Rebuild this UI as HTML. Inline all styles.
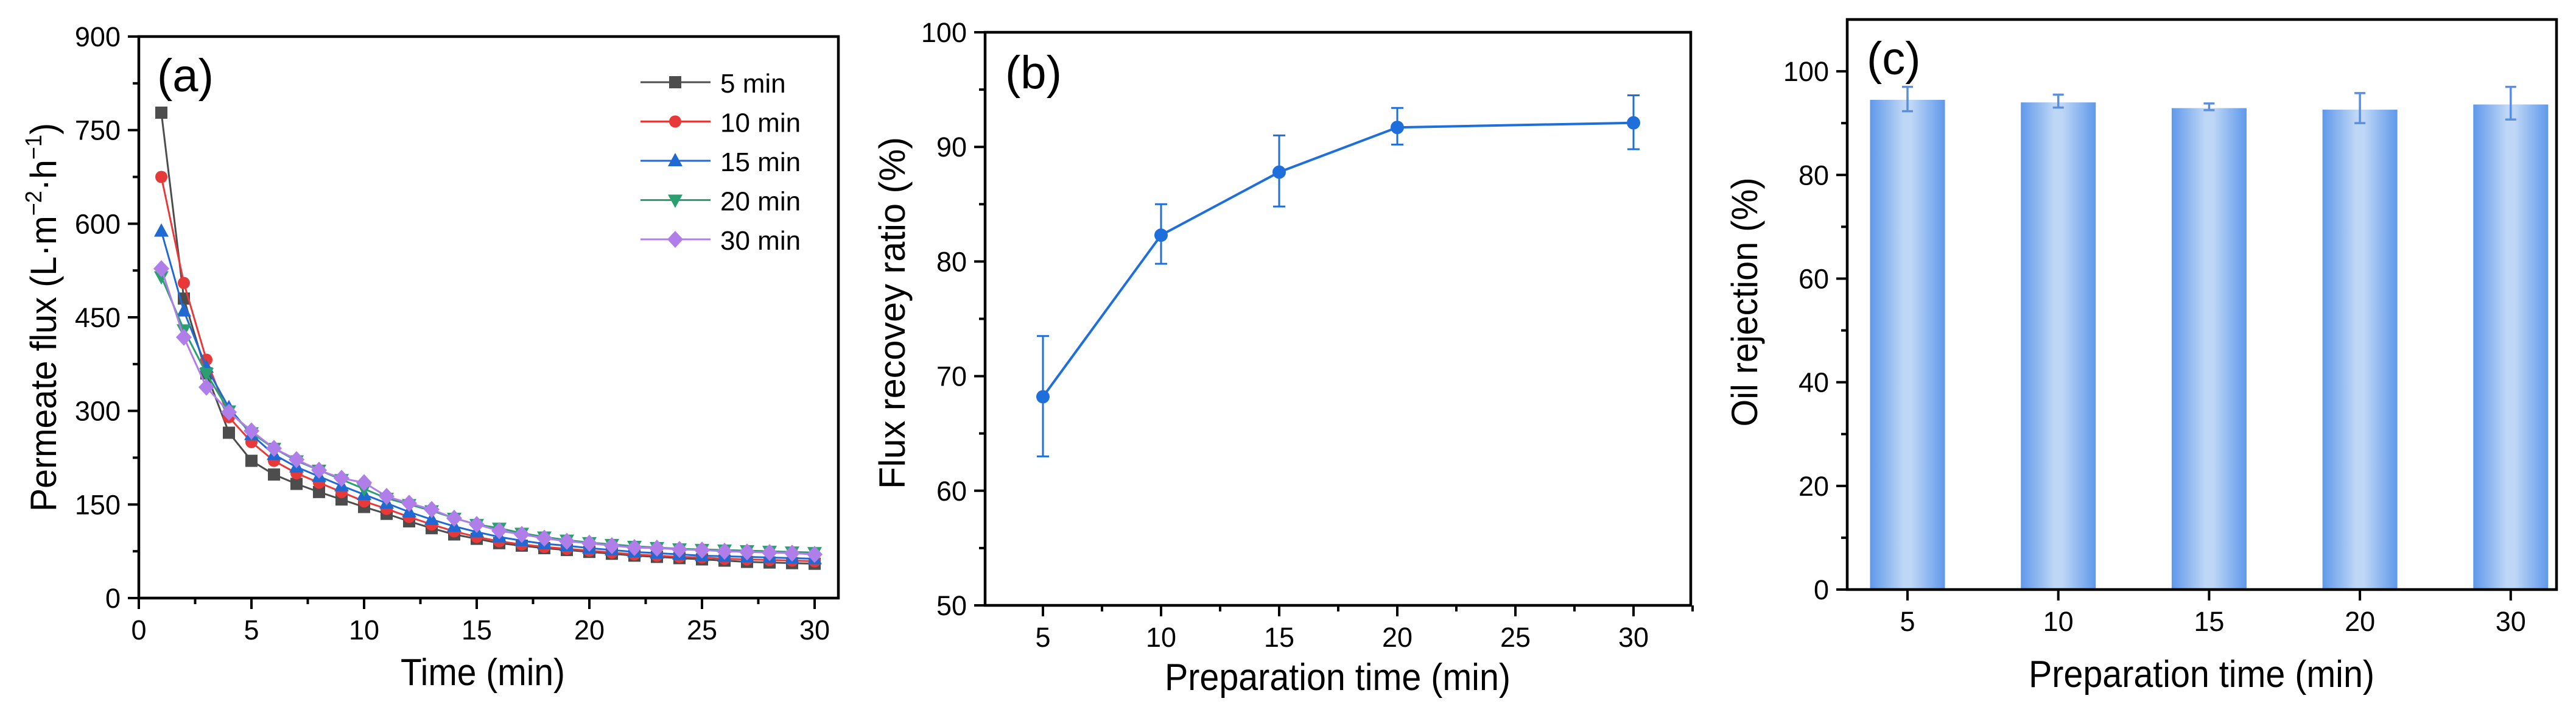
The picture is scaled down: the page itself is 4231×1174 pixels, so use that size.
<!DOCTYPE html>
<html><head><meta charset="utf-8"><style>
html,body{margin:0;padding:0;background:#fff;}
svg{display:block;font-family:"Liberation Sans",Arial,sans-serif;}
</style></head><body>
<svg id="fig" width="4231" height="1174" viewBox="0 0 4231 1174" xmlns="http://www.w3.org/2000/svg">
<defs>
<linearGradient id="barGrad" x1="0" x2="1" y1="0" y2="0">
<stop offset="0" stop-color="#5f98ea"/><stop offset="0.45" stop-color="#bfd7f6"/><stop offset="0.55" stop-color="#bfd7f6"/><stop offset="1" stop-color="#5f98ea"/>
</linearGradient>
</defs>
</svg>
<script>
// ---- Panel (a) data ----
const aTimes = [1,2,3,4,5,6,7,8,9,10,11,12,13,14,15,16,17,18,19,20,21,22,23,24,25,26,27,28,29,30];
const aLabels = ["5 min","10 min","15 min","20 min","30 min"];
const a5 = [778,480,360,265,220,198,183,170,158,146,135,123,112,102,95,88,84,80,77,74,71,68,66,64,62,60,58,57,56,55];
const a10 = [675,505,382,290,250,220,200,185,170,155,143,130,118,107,98,91,86,82,79,76,73,70,68,66,65,63,62,61,60,59];
const a15 = [588,460,370,305,262,230,210,195,180,166,152,138,126,115,106,98,92,87,84,80,77,74,72,70,68,67,66,65,64,63];
const a20 = [515,430,360,300,265,240,220,205,190,175,160,150,140,128,118,112,104,98,93,89,86,83,81,79,78,77,76,75,74,73];
const a30 = [528,418,338,298,268,240,222,205,192,185,163,152,142,128,118,108,102,96,91,88,84,81,80,78,77,75,74,73,72,70];
const aYTicks = [0,150,300,450,600,750,900];
const aXTicks = [0,5,10,15,20,25,30];
// ---- Panel (b) data ----
const bTimes = [5,10,15,20,30];
const bFRR = [68.2,82.3,87.8,91.7,92.1];
const bErrLo = [63.0,79.8,84.8,90.2,89.8];
const bErrHi = [73.5,85.0,91.0,93.4,94.5];
const bYTicks = [50,60,70,80,90,100];
const bXTicks = [5,10,15,20,25,30];
// ---- Panel (c) data ----
const cCats = ["5","10","15","20","30"];
const cRej = [94.5,94.0,92.9,92.6,93.6];
const cErrLo = [92.3,93.0,92.5,90.0,90.7];
const cErrHi = [97.0,95.5,93.8,95.8,97.0];
const cYTicks = [0,20,40,60,80,100];

const NS="http://www.w3.org/2000/svg";
const svg=document.getElementById('fig');
function mk(tag,attrs,parent){const e=document.createElementNS(NS,tag);for(const k in attrs)e.setAttribute(k,attrs[k]);(parent||svg).appendChild(e);return e;}
function txt(s,x,y,size,anchor,parent,rot,len){const t=mk('text',{x:x,y:y,'font-size':size,'text-anchor':anchor||'middle',fill:'#000'},parent);if(rot)t.setAttribute('transform','rotate(-90 '+x+' '+y+')');if(len){t.setAttribute('textLength',len);t.setAttribute('lengthAdjust','spacingAndGlyphs');}t.textContent=s;return t;}

function frame(g,L,R,T,B){
  const r=mk('rect',{x:L,y:T,width:R-L,height:B-T,fill:'none',stroke:'#000','stroke-width':4.5},g);
  
  
}
function yAxis(g,L,ys,ticks,minor){
  ticks.forEach(v=>{const y=ys(v);mk('line',{x1:L-18,x2:L,y1:y,y2:y,stroke:'#000','stroke-width':4},g);
    const t=txt(String(v),L-30,y+16,45,'end',g);
    
    });
  minor.forEach(v=>{const y=ys(v);mk('line',{x1:L-10,x2:L,y1:y,y2:y,stroke:'#000','stroke-width':4},g);});
}
function xAxis(g,B,xs,ticks,minor,labels){
  ticks.forEach((v,i)=>{const x=xs(v);mk('line',{x1:x,x2:x,y1:B,y2:B+18,stroke:'#000','stroke-width':4},g);
    const t=txt(labels?labels[i]:String(v),x,B+68,45,'middle',g);
    
    });
  minor.forEach(v=>{const x=xs(v);mk('line',{x1:x,x2:x,y1:B,y2:B+10,stroke:'#000','stroke-width':4},g);});
}
function marker(g,type,x,y,c){
  const s=10;
  if(type==='sq')return mk('rect',{x:x-s,y:y-s,width:2*s,height:2*s,fill:c},g);
  if(type==='ci')return mk('circle',{cx:x,cy:y,r:s,fill:c},g);
  if(type==='tu')return mk('polygon',{points:`${x},${y-13} ${x+12},${y+9} ${x-12},${y+9}`,fill:c},g);
  if(type==='td')return mk('polygon',{points:`${x},${y+13} ${x+12},${y-9} ${x-12},${y-9}`,fill:c},g);
  if(type==='di')return mk('polygon',{points:`${x},${y-14} ${x+13},${y} ${x},${y+14} ${x-13},${y}`,fill:c},g);
  if(type==='pent')return mk('circle',{cx:x,cy:y,r:11,fill:c},g);
}

// ===== Panel a =====
(function(){
  const g=mk('g',{});
  
  
  const L=228,R=1377,T=60,B=982;
  const xs=v=>L+(v-0)*(1338-228)/30;
  const ys=v=>B-(v/900)*(B-T);
  const series=[a5,a10,a15,a20,a30];
  const colors=['#4d4d4d','#e8393a','#2069d2','#2aa070','#b07ee8'];
  const marks=['sq','ci','tu','td','di'];
  const names=['series-5min','series-10min','series-15min','series-20min','series-30min'];
  series.forEach((s,si)=>{
    const sg=mk('g',{},g);
    
    
    mk('polyline',{points:s.map((v,i)=>xs(aTimes[i])+','+ys(v)).join(' '),fill:'none',stroke:colors[si],'stroke-width':3},sg);
    s.forEach((v,i)=>{const m=marker(sg,marks[si],xs(aTimes[i]),ys(v),colors[si]);
      
      });
  });
  frame(g,L,R,T,B);
  yAxis(g,L,ys,aYTicks,[75,225,375,525,675,825]);
  xAxis(g,B,xs,aXTicks,[2.5,7.5,12.5,17.5,22.5,27.5]);
  const pl=txt('(a)',258,150,76,'start',g);
  
  
  // legend
  const lg=mk('g',{},g);
  
  
  aLabels.forEach((lab,i)=>{
    const y=135+i*64.5;
    const eg=mk('g',{},lg);
    
    
    mk('line',{x1:1052,x2:1167,y1:y,y2:y,stroke:colors[i],'stroke-width':3},eg);
    marker(eg,marks[i],1109,y,colors[i]);
    txt(lab,1183,y+17,44,'start',eg);
  });
  const xt=txt('Time (min)',793,1125,62,'middle',g,false,270);
  
  
  const yt=mk('text',{x:92,y:521,'font-size':60,'text-anchor':'middle',transform:'rotate(-90 92 521)',textLength:638,lengthAdjust:'spacingAndGlyphs'},g);
  
  
  yt.innerHTML='Permeate flux (L·m<tspan dy="-24" font-size="38">−2</tspan><tspan dy="24">·h</tspan><tspan dy="-24" font-size="38">−1</tspan><tspan dy="24">)</tspan>';
})();

// ===== Panel b =====
(function(){
  const g=mk('g',{});
  
  
  const L=1618,R=2777,T=53,B=994;
  const xs=v=>1713+(v-5)*(2683-1713)/25;
  const ys=v=>B-(v-50)/50*(B-T);
  const c='#1e6fdc';
  const sg=mk('g',{},g);
  
  
  mk('polyline',{points:bFRR.map((v,i)=>xs(bTimes[i])+','+ys(v)).join(' '),fill:'none',stroke:c,'stroke-width':4},sg);
  bFRR.forEach((v,i)=>{
    const x=xs(bTimes[i]);
    const e=mk('g',{},sg);
    
    
    mk('line',{x1:x,x2:x,y1:ys(bErrLo[i]),y2:ys(bErrHi[i]),stroke:c,'stroke-width':3},e);
    mk('line',{x1:x-10,x2:x+10,y1:ys(bErrLo[i]),y2:ys(bErrLo[i]),stroke:c,'stroke-width':3},e);
    mk('line',{x1:x-10,x2:x+10,y1:ys(bErrHi[i]),y2:ys(bErrHi[i]),stroke:c,'stroke-width':3},e);
    const m=marker(sg,'pent',x,ys(v),c);
    
    
  });
  frame(g,L,R,T,B);
  yAxis(g,L,ys,bYTicks,[55,65,75,85,95]);
  xAxis(g,B,xs,bXTicks,[7.5,12.5,17.5,22.5,27.5,32.5]);
  const pl=txt('(b)',1651,145,76,'start',g);
  
  
  const xt=txt('Preparation time (min)',2197,1133,62,'middle',g,false,568);
  
  
  const yt=txt('Flux recovey ratio (%)',1486,514,60,'middle',g,true,578);
  
  
})();

// ===== Panel c =====
(function(){
  const g=mk('g',{});
  
  
  const L=3034,R=4199,T=32,B=968;
  const xs=i=>3133+i*247.7;
  const ys=v=>B-(v/110)*(B-T);
  const bw=123;
  cRej.forEach((v,i)=>{
    const x=xs(i);
    const r=mk('rect',{x:x-bw/2,y:ys(v),width:bw,height:B-ys(v),fill:'url(#barGrad)'},g);
    
    
    const e=mk('g',{},g);
    
    
    const ec='#5a8fe0';
    mk('line',{x1:x,x2:x,y1:ys(cErrLo[i]),y2:ys(cErrHi[i]),stroke:ec,'stroke-width':3.5},e);
    mk('line',{x1:x-9,x2:x+9,y1:ys(cErrLo[i]),y2:ys(cErrLo[i]),stroke:ec,'stroke-width':3.5},e);
    mk('line',{x1:x-9,x2:x+9,y1:ys(cErrHi[i]),y2:ys(cErrHi[i]),stroke:ec,'stroke-width':3.5},e);
  });
  frame(g,L,R,T,B);
  yAxis(g,L,ys,cYTicks,[10,30,50,70,90]);
  xAxis(g,B,xs,[0,1,2,3,4],[],cCats);
  const pl=txt('(c)',3066,122,76,'start',g);
  
  
  const xt=txt('Preparation time (min)',3616,1128,62,'middle',g,false,568);
  
  
  const yt=txt('Oil rejection (%)',2886,496,60,'middle',g,true,409);
  
  
})();
</script>
</body></html>
